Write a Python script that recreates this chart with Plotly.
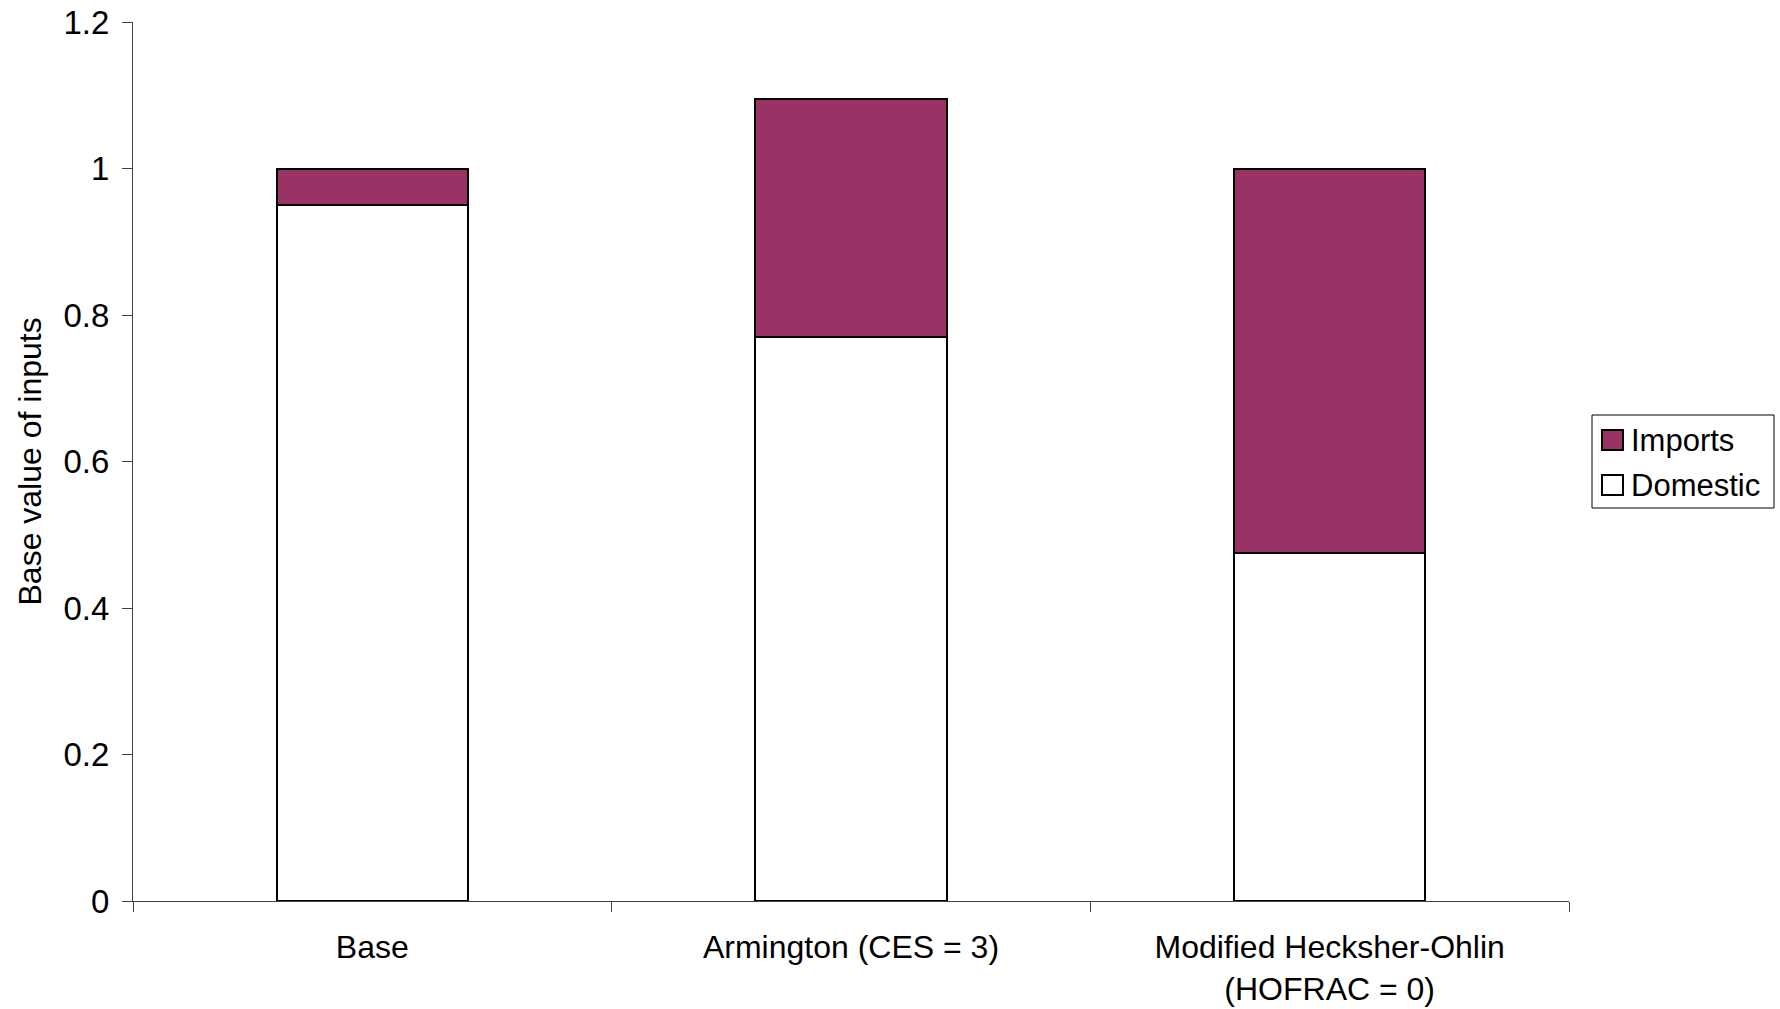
import plotly.graph_objects as go

categories = ["Base", "Armington (CES = 3)", "Modified Hecksher-Ohlin<br>(HOFRAC = 0)"]
domestic = [0.95, 0.77, 0.475]
imports = [0.05, 0.325, 0.525]
y_ticks = [0, 0.2, 0.4, 0.6, 0.8, 1, 1.2]
y_tick_labels = ["0", "0.2", "0.4", "0.6", "0.8", "1", "1.2"]
series_names = ["Imports", "Domestic"]
series_colors = ["#993366", "#FFFFFF"]
y_title = "Base value of inputs"

FONT = "Arial, 'Liberation Sans', sans-serif"
W, H = 1780, 1009
ML, MT = 133, 22
PW, PH = 1436, 879
MR = W - ML - PW
MB = H - MT - PH
OFF = 0  # page body margin removed below


def px_x(px):
    return (px - OFF - ML) / PW


def px_y(py):
    return (PH + MT + OFF - py) / PH


fig = go.Figure()
fig.add_trace(go.Bar(
    name="Domestic", x=categories, y=domestic,
    marker=dict(color="#FFFFFF", line=dict(color="#000000", width=2)),
    width=0.4, showlegend=False,
))
fig.add_trace(go.Bar(
    name="Imports", x=categories, y=imports,
    marker=dict(color="#993366", line=dict(color="#000000", width=2)),
    width=0.4, showlegend=False,
))

# custom legend (box, swatches, labels)
shapes = [dict(type="rect", xref="paper", yref="paper",
               x0=px_x(1592), x1=px_x(1774), y0=px_y(508), y1=px_y(415),
               line=dict(color="#000000", width=1), fillcolor="white")]
annotations = []
for i, (nm, col) in enumerate(zip(series_names, series_colors)):
    cy = 440 + 45 * i
    shapes.append(dict(type="rect", xref="paper", yref="paper",
                       x0=px_x(1602), x1=px_x(1623), y0=px_y(cy + 10), y1=px_y(cy - 10),
                       line=dict(color="#000000", width=2), fillcolor=col))
    annotations.append(dict(xref="paper", yref="paper", x=px_x(1629), y=px_y(cy),
                            xanchor="left", yanchor="middle", text=nm, showarrow=False,
                            font=dict(size=31, family=FONT, color="#000000")))

# y axis title
annotations.append(dict(xref="paper", yref="paper", x=px_x(29), y=0.5,
                        xanchor="center", yanchor="middle", text=y_title,
                        textangle=-90, showarrow=False,
                        font=dict(size=32, family=FONT, color="#000000")))

fig.update_layout(
    barmode="stack",
    width=W, height=H,
    margin=dict(l=ML, r=MR, t=MT, b=MB, autoexpand=False),
    paper_bgcolor="white", plot_bgcolor="white",
    font=dict(family=FONT, size=32, color="#000000"),
    showlegend=False,
    shapes=shapes,
    annotations=annotations,
    xaxis=dict(
        type="category",
        range=[-0.5, 2.5],
        showline=True, linecolor="#404040", linewidth=1,
        ticks="outside", ticklen=10, tickcolor="#404040",
        tickson="boundaries",
        showgrid=False, zeroline=False,
        tickfont=dict(size=32),
        ticklabelstandoff=18,
    ),
    yaxis=dict(
        range=[0, 1.2],
        tickvals=y_ticks, ticktext=y_tick_labels,
        showline=True, linecolor="#404040", linewidth=1,
        ticks="outside", ticklen=10, tickcolor="#404040",
        showgrid=False, zeroline=False,
        tickfont=dict(size=33),
        ticklabelstandoff=6,
        ticklabeloverflow="allow",
    ),
)

fig.write_html("out.html", config={"displayModeBar": False},
               post_script="document.body.style.margin='0px';")
